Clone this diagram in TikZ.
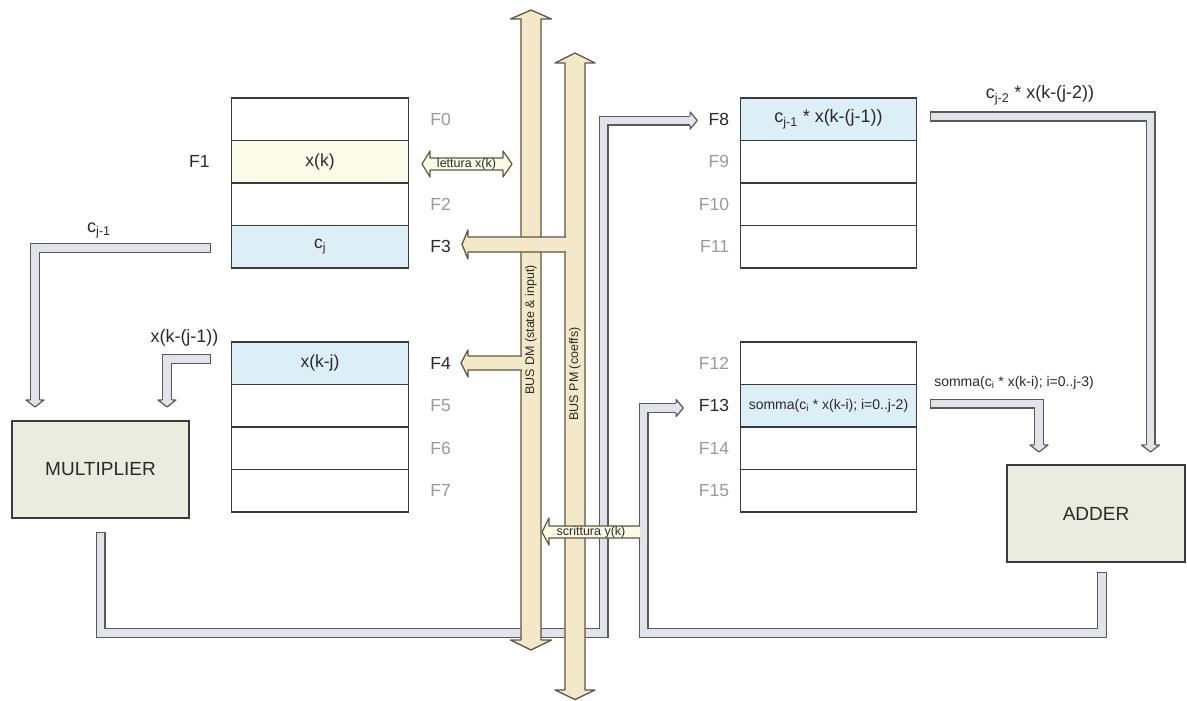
\documentclass[tikz,border=0pt]{standalone}
\usepackage{fontspec}
\setmainfont{Liberation Sans}
\usetikzlibrary{positioning,calc}

\definecolor{cellline}{HTML}{3A3A3A}
\definecolor{txt}{HTML}{2A2A2A}
\definecolor{offgrey}{HTML}{9A9A9A}
\definecolor{xkfill}{HTML}{FBFBE9}
\definecolor{bluefill}{HTML}{DCEEF6}
\definecolor{unitfill}{HTML}{EBECE0}
\definecolor{busfill}{HTML}{F3E9C8}
\definecolor{busline}{HTML}{5E5545}
\definecolor{rwfill}{HTML}{FBFAE4}
\definecolor{pipefill}{HTML}{E2E2EA}
\definecolor{pipeedge}{HTML}{5A5A5A}

\begin{document}
\begin{tikzpicture}[x=1pt, y=-1pt,
    cell/.style={rectangle, draw=cellline, line width=1.4pt, fill=white, minimum width=176.5pt, minimum height=42.5pt, inner sep=0pt, outer sep=0pt, text=txt, font=\fontsize{17.5}{20}\selectfont},
    hot/.style={cell, fill=bluefill},
    flab/.style={inner sep=0pt, text=offgrey, font=\fontsize{17.5}{20}\selectfont},
    flabon/.style={flab, text=txt},
    unit/.style={rectangle, draw=cellline, line width=1.3pt, fill=unitfill, minimum width=177pt, minimum height=97pt, outer sep=0pt, text=txt, font=\fontsize{19}{22}\selectfont},
    pipe/.style={draw=pipefill, line width=7.6pt, line join=miter, shorten <=1.2pt, preaction={draw=pipeedge, line width=10pt, shorten <=0pt}},
    pipehead/.style={fill=pipefill, draw=pipeedge, line width=1.2pt, line join=round},
    bus/.style={fill=busfill, draw=busline, line width=1.3pt, line join=round},
    rw/.style={fill=rwfill, draw=busline, line width=1.2pt, line join=round},
    tag/.style={inner sep=0pt, text=txt, font=\fontsize{18}{20}\selectfont},
    smalltag/.style={inner sep=0pt, text=txt, font=\fontsize{14}{16}\selectfont},
    tinytag/.style={inner sep=0pt, text=txt, font=\fontsize{12.5}{14}\selectfont},
    headdown/.pic={\filldraw[pipehead] (-5,-7) -- (-9,-7) -- (0,0) -- (9,-7) -- (5,-7);},
    headright/.pic={\filldraw[pipehead] (-7,-5) -- (-7,-8.5) -- (0,0) -- (-7,8.5) -- (-7,5);}
]
\fill[white] (0,0) rectangle (1187,701);
\useasboundingbox (0,0) rectangle (1187,701);

% Memory cells
\node[cell] (f0) at (320,119.25) {};
\node[cell, fill=xkfill, below=0pt of f0] (f1) {x(k)};
\node[cell, below=0pt of f1] (f2) {};
\node[hot, below=0pt of f2] (f3) {c\textsubscript{j}};
\node[hot] (f4) at (320,363.25) {x(k-j)};
\node[cell, below=0pt of f4] (f5) {};
\node[cell, below=0pt of f5] (f6) {};
\node[cell, below=0pt of f6] (f7) {};
\node[hot, font=\fontsize{18}{20}\selectfont] (f8) at (828.5,119.25) {c\textsubscript{j-1} * x(k-(j-1))};
\node[cell, below=0pt of f8] (f9) {};
\node[cell, below=0pt of f9] (f10) {};
\node[cell, below=0pt of f10] (f11) {};
\node[cell] (f12) at (828.5,363.25) {};
\node[hot, below=0pt of f12, font=\fontsize{14}{16}\selectfont] (f13) {somma(c\textsubscript{i} * x(k-i); i=0..j-2)};
\node[cell, below=0pt of f13] (f14) {};
\node[cell, below=0pt of f14] (f15) {};

% Register labels
\node[flab, right=22pt of f0] (l0) {F0};
\node[flabon, left=22pt of f1] (l1) {F1};
\node[flab, right=22pt of f2] (l2) {F2};
\node[flabon, right=22pt of f3] (l3) {F3};
\node[flabon, right=22pt of f4] (l4) {F4};
\node[flab, right=22pt of f5] (l5) {F5};
\node[flab, right=22pt of f6] (l6) {F6};
\node[flab, right=22pt of f7] (l7) {F7};
\node[flabon, left=11pt of f8] (l8) {F8};
\node[flab, left=11pt of f9] (l9) {F9};
\node[flab, left=11pt of f10] (l10) {F10};
\node[flab, left=11pt of f11] (l11) {F11};
\node[flab, left=11pt of f12] (l12) {F12};
\node[flabon, left=11pt of f13] (l13) {F13};
\node[flab, left=11pt of f14] (l14) {F14};
\node[flab, left=11pt of f15] (l15) {F15};

% Units
\node[unit] (mult) at (100.5,469.5) {MULTIPLIER};
\node[unit, minimum width=178pt] (add) at (1096,513.5) {ADDER};

% Pipes
\coordinate (mbend) at (603.5,633);
\coordinate (abend) at (643.5,633);
\draw[pipe] ($(f3.west)+(-21,1.25)$) -| ($(mult.north west)+(23,-21)$);
\pic at ($(mult.north west)+(23,-14)$) {headdown};
\draw[pipe] ($(f4.west)+(-21,-4.25)$) -| ($(mult.north east)+(-22,-21)$);
\pic at ($(mult.north east)+(-22,-14)$) {headdown};
\draw[pipe] ($(mult.south)+(0,14)$) |- (mbend) |- ($(f8.west)+(-50,1.25)$);
\pic at ($(f8.west)+(-43,1.25)$) {headright};
\draw[pipe] ($(add.south)+(6,10)$) |- (abend) |- ($(f13.west)+(-64,2.25)$);
\pic at ($(f13.west)+(-57,2.25)$) {headright};
\draw[pipe] ($(f8.east)+(13,-2.75)$) -| ($(add.north east)+(-34.5,-20)$);
\pic at ($(add.north east)+(-34.5,-13)$) {headdown};
\draw[pipe] ($(f13.east)+(13,-2.25)$) -| ($(add.north)+(-57,-20)$);
\pic at ($(add.north)+(-57,-13)$) {headdown};

% Buses
\filldraw[bus] (521,19) -- (510.5,19) -- (531,10) -- (551.5,19) -- (541,19) -- (541,640) -- (551.5,640) -- (531,650) -- (510.5,640) -- (521,640) -- cycle;
\filldraw[bus] (565,63) -- (555,63) -- (575,53) -- (595,63) -- (585,63) -- (585,690) -- (595,690) -- (575,699.5) -- (555,690) -- (565,690) -- cycle;
\filldraw[bus] (566,237) -- (468,237) -- (468,230) -- (462,244.5) -- (468,259) -- (468,252) -- (566,252);
\filldraw[bus] (522,356) -- (468,356) -- (468,350) -- (461,363) -- (468,377) -- (468,370) -- (522,370);
\node[tinytag, rotate=90] (dmlab) at (531,330) {BUS DM (state \& input)};
\node[tinytag, rotate=90] (pmlab) at (575,374) {BUS PM (coeffs)};

% Read / write
\filldraw[rw] (430,158) -- (503,158) -- (503,151) -- (512,164) -- (503,177) -- (503,170) -- (430,170) -- (430,177) -- (422,164) -- (430,151) -- cycle;
\node[tinytag] (rd) at (466.5,164) {lettura x(k)};
\filldraw[rw] (640,526) -- (549,526) -- (549,518) -- (542,532) -- (549,545) -- (549,538) -- (640,538);
\node[tinytag] (wr) at (591,532) {scrittura y(k)};

% Pipe labels
\node[tag, anchor=base] (tcj1) at (99,232) {c\textsubscript{j-1}};
\node[tag, anchor=base] (txkj1) at (184.5,342) {x(k-(j-1))};
\node[tag, anchor=base] (tcj2) at (1040,99) {c\textsubscript{j-2} * x(k-(j-2))};
\node[smalltag, anchor=base] (tsom) at (1014,386) {somma(c\textsubscript{i} * x(k-i); i=0..j-3)};

\end{tikzpicture}
\end{document}
